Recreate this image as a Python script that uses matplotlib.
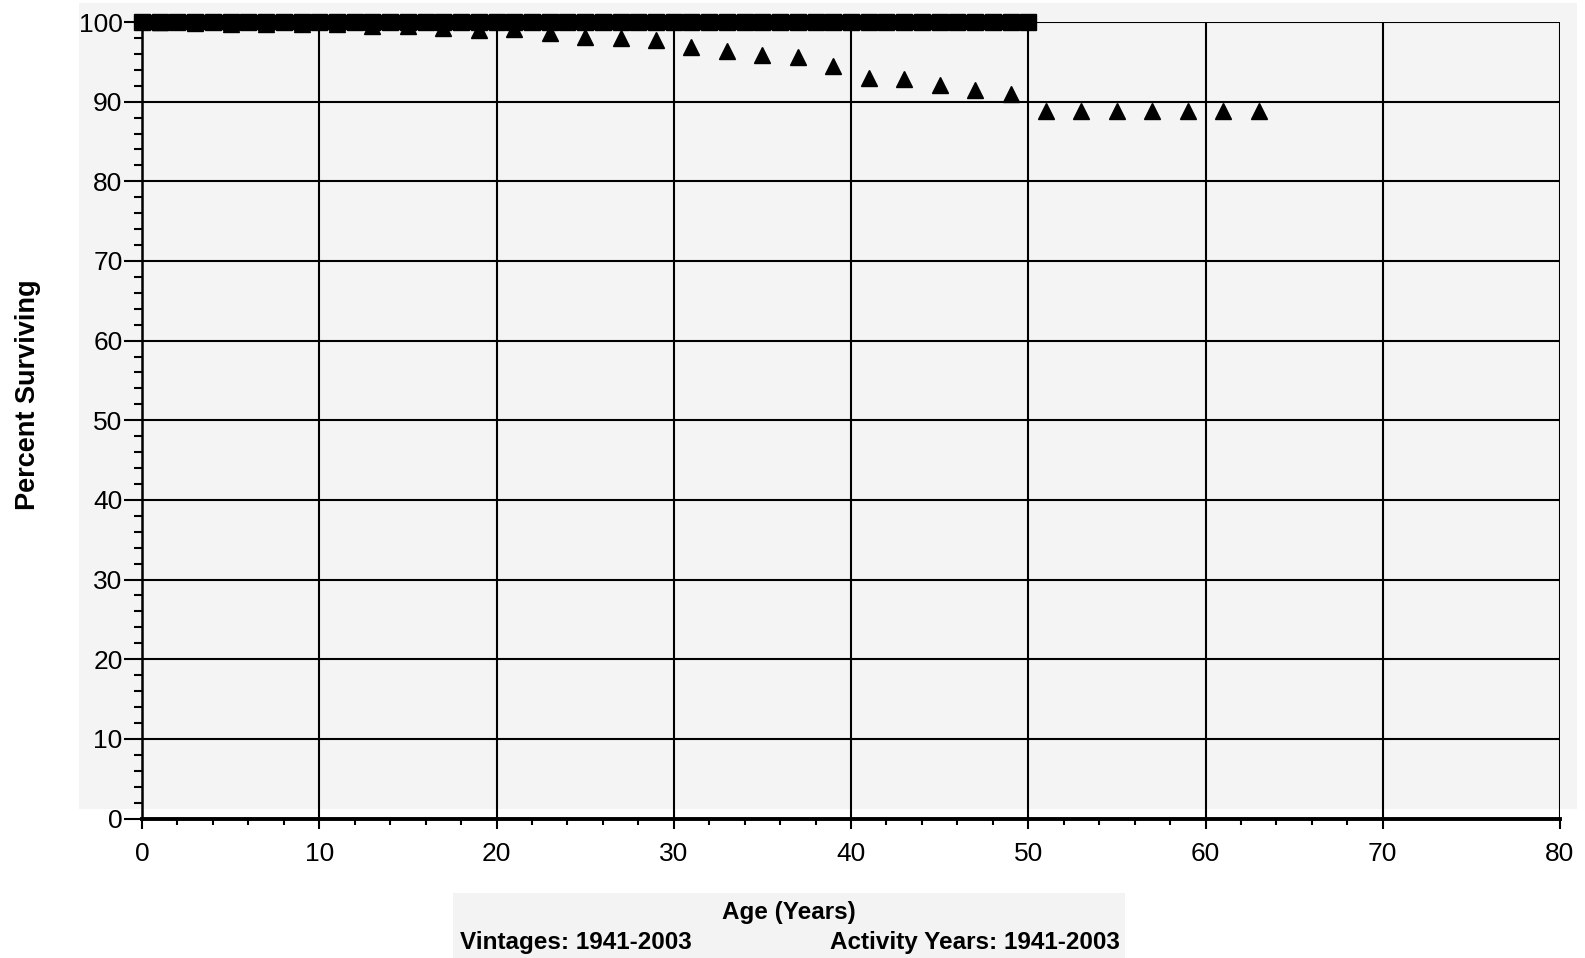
import matplotlib
matplotlib.use("Agg")
import matplotlib.pyplot as plt
from matplotlib.patches import Rectangle

plt.rcParams['font.family'] = ['Liberation Sans', 'DejaVu Sans']

# square series: flat at 100 through age 50
sq_age = [0, 1, 2, 3, 4, 5, 6, 7, 8, 9, 10, 11, 12, 13, 14, 15, 16, 17, 18, 19, 20,
          21, 22, 23, 24, 25, 26, 27, 28, 29, 30, 31, 32, 33, 34, 35, 36, 37, 38, 39, 40,
          41, 42, 43, 44, 45, 46, 47, 48, 49, 50]
sq_pct = [100, 100, 100, 100, 100, 100, 100, 100, 100, 100, 100, 100, 100, 100, 100, 100, 100,
          100, 100, 100, 100, 100, 100, 100, 100, 100, 100, 100, 100, 100, 100, 100, 100, 100,
          100, 100, 100, 100, 100, 100, 100, 100, 100, 100, 100, 100, 100, 100, 100, 100, 100]

# triangle series (every 2 years)
tri_age = [1, 3, 5, 7, 9, 11, 13, 15, 17, 19, 21, 23, 25, 27, 29, 31,
           33, 35, 37, 39, 41, 43, 45, 47, 49, 51, 53, 55, 57, 59, 61, 63]
tri_pct = [100.0, 99.9, 99.8, 99.7, 99.7, 99.7, 99.5, 99.5, 99.3, 99.05, 99.1, 98.6, 98.1, 98.0, 97.8, 96.8,
           96.3, 95.9, 95.6, 94.5, 93.0, 92.8, 92.1, 91.5, 90.9, 88.8, 88.8, 88.8, 88.8, 88.8, 88.8, 88.8]

x_major = [0, 10, 20, 30, 40, 50, 60, 70, 80]
x_minor = [2, 4, 6, 8, 12, 14, 16, 18, 22, 24, 26, 28, 32, 34, 36, 38, 42, 44, 46, 48,
           52, 54, 56, 58, 62, 64, 66, 68]
y_major = [0, 10, 20, 30, 40, 50, 60, 70, 80, 90, 100]

W, H = 1585, 958
fig = plt.figure(figsize=(W / 100, H / 100), dpi=100)

# grey plot backdrop and grey caption box (figure pixels)
fig.patches.append(Rectangle((79 / W, 1 - 809 / H), (1577 - 79) / W, (809 - 3) / H,
                             transform=fig.transFigure, facecolor='#f4f4f4', edgecolor='none', zorder=-10))
fig.patches.append(Rectangle((453 / W, 0), (1125 - 453) / W, (958 - 893) / H,
                             transform=fig.transFigure, facecolor='#f3f3f3', edgecolor='none', zorder=-10))

ax = fig.add_axes([142 / W, 1 - 818.5 / H, (1560 - 142) / W, (818.5 - 22) / H])
ax.set_facecolor('none')

ax.plot(tri_age, tri_pct, linestyle='none', marker='^', ms=12, color='black', zorder=4)
ax.plot(sq_age, sq_pct, linestyle='-', lw=11, marker='s', ms=11.5, color='black',
        solid_capstyle='butt', zorder=5, clip_on=False)

ax.set_xlim(0, 80)
ax.set_ylim(0, 100)
ax.set_xticks(x_major)
ax.set_xticks(x_minor, minor=True)
ax.set_yticks(y_major)
ax.set_yticks([v for v in range(2, 100, 2) if v % 10], minor=True)

ax.grid(True, which='major', color='black', lw=1.5)
ax.set_axisbelow(True)

for s in ['top', 'right']:
    ax.spines[s].set_visible(False)
ax.spines['left'].set_linewidth(1.8)
ax.spines['bottom'].set_linewidth(2.8)

ax.tick_params(axis='y', which='major', direction='out', length=13, width=1.5, pad=1, labelsize=19)
ax.tick_params(axis='y', which='minor', direction='out', length=6, width=1.5)
ax.tick_params(axis='x', which='major', direction='out', length=7, width=1.5, pad=10, labelsize=19)
ax.tick_params(axis='x', which='minor', direction='out', length=4, width=1.5)

fig.text(28 / W, 1 - 395 / H, 'Percent Surviving', rotation=90, ha='center', va='center',
         fontsize=19.5, fontweight='bold')
fig.text(789 / W, 1 - 913 / H, 'Age (Years)', ha='center', va='center', fontsize=17.5, fontweight='bold')
fig.text(576 / W, 1 - 942 / H, 'Vintages: 1941-2003', ha='center', va='center', fontsize=17.5, fontweight='bold')
fig.text(975 / W, 1 - 942 / H, 'Activity Years: 1941-2003', ha='center', va='center', fontsize=17.5, fontweight='bold')

fig.savefig('out.png', dpi=100)
